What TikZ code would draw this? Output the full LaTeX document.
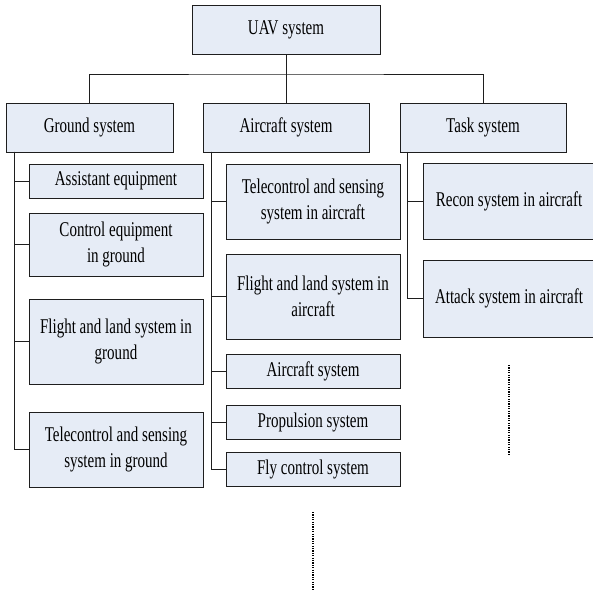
\documentclass[tikz,border=0pt]{standalone}
\usepackage{fontspec}
\setmainfont[FakeStretch=0.715]{Liberation Serif}
\definecolor{boxfill}{RGB}{230,236,246}
\definecolor{boxline}{RGB}{30,30,30}
\begin{document}
\begin{tikzpicture}[x=1pt,y=-1pt,
  sysbox/.style={draw=boxline,fill=boxfill,line width=0.8pt,inner sep=0pt,align=center,
    font=\fontsize{21}{25.5}\selectfont},
  conn/.style={draw=boxline,line width=0.7pt},
  dots/.style={draw=black,line width=1.1pt,dash pattern=on 1.2pt off 1.2pt}]
\useasboundingbox (0,0) rectangle (593,593);
% level 0
\node[sysbox,minimum width=188pt,minimum height=49pt] (uav) at (286,29.5) {UAV system};
% level 1
\node[sysbox,minimum width=167pt,minimum height=49pt] (ground) at (89.5,127.5) {Ground system};
\node[sysbox,minimum width=166pt,minimum height=49pt] (air) at (286,127.5) {Aircraft system};
\node[sysbox,minimum width=166pt,minimum height=49pt] (task) at (483,127.5) {Task system};
% ground subs
\node[sysbox,minimum width=174pt,minimum height=34pt] (assist) at (116,181) {Assistant equipment};
\node[sysbox,minimum width=174pt,minimum height=63pt] (ctrl) at (116,244.5) {Control equipment\\in ground};
\node[sysbox,minimum width=174pt,minimum height=85pt] (flg) at (116,341.5) {Flight and land system in\\ground};
\node[sysbox,minimum width=174pt,minimum height=75pt] (telg) at (116,449.5) {Telecontrol and sensing\\system in ground};
% aircraft subs
\node[sysbox,minimum width=174pt,minimum height=75pt] (tela) at (313,201.5) {Telecontrol and sensing\\system in aircraft};
\node[sysbox,minimum width=174pt,minimum height=85pt] (fla) at (313,296.5) {Flight and land system in\\aircraft};
\node[sysbox,minimum width=174pt,minimum height=34pt] (airsub) at (313,371) {Aircraft system};
\node[sysbox,minimum width=174pt,minimum height=34pt] (prop) at (313,422) {Propulsion system};
\node[sysbox,minimum width=174pt,minimum height=34pt] (fly) at (313,469) {Fly control system};
% task subs
\node[sysbox,minimum width=172pt,minimum height=76pt] (recon) at (509,201) {Recon system in aircraft};
\node[sysbox,minimum width=172pt,minimum height=77pt] (attack) at (509,298.5) {Attack system in aircraft};
% bus
\coordinate (bus) at (286,74);
\draw[conn] (uav.south) -- (air.north);
\draw[conn] (ground.north) |- (bus) -| (task.north);
% trunks
\coordinate (gt) at (14,152);
\coordinate (at) at (211,152);
\coordinate (tt) at (407,152);
\foreach \n in {assist,ctrl,flg,telg}{\draw[conn] (gt) |- (\n.west);}
\foreach \n in {tela,fla,airsub,prop,fly}{\draw[conn] (at) |- (\n.west);}
\foreach \n in {recon,attack}{\draw[conn] (tt) |- (\n.west);}
% continuation marks
\coordinate (d1a) at (509,365); \coordinate (d1b) at (509,455);
\coordinate (d2a) at (313,512); \coordinate (d2b) at (313,590);
\draw[dots] (d1a) -- (d1b);
\draw[dots] (d2a) -- (d2b);
\end{tikzpicture}
\end{document}
